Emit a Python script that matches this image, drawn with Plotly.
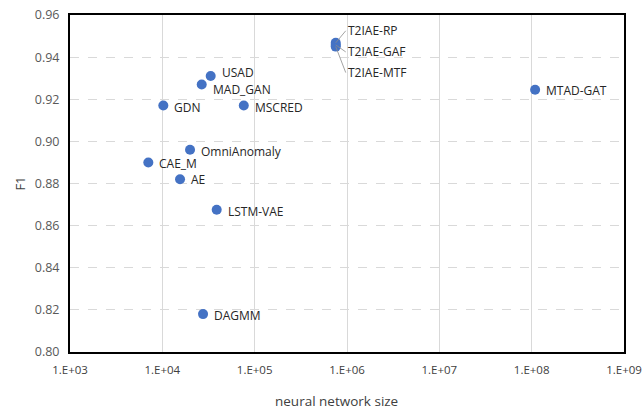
import math
import plotly.graph_objects as go

models = ["USAD", "MAD_GAN", "GDN", "MSCRED", "OmniAnomaly", "CAE_M", "AE",
          "LSTM-VAE", "DAGMM", "MTAD-GAT"]
sizes = [33400, 26700, 10250, 76200, 19950, 7050, 15550, 38800, 27600, 1.09e8]
f1 = [0.931, 0.927, 0.917, 0.917, 0.896, 0.890, 0.882, 0.8675, 0.818, 0.9245]
label_yshift = [4, -5, -2, -2, -2, -1, 0, -2, -1, -1]

t2_models = ["T2IAE-RP", "T2IAE-GAF", "T2IAE-MTF"]
t2_sizes = [755000, 755000, 755000]
t2_f1 = [0.9468, 0.9458, 0.9450]
t2_label_offsets = [(10, -12), (10, 7), (10, 26)]

tick_vals = [1e3, 1e4, 1e5, 1e6, 1e7, 1e8, 1e9]
tick_text = ["1.E+03", "1.E+04", "1.E+05", "1.E+06", "1.E+07", "1.E+08", "1.E+09"]
y_ticks = [0.80, 0.82, 0.84, 0.86, 0.88, 0.90, 0.92, 0.94, 0.96]

blue = "#4472C4"
font = "Open Sans"
lab_font = dict(family=font, size=12, color="#262626")

fig = go.Figure()
fig.add_trace(go.Scatter(
    x=sizes, y=f1, mode="markers",
    marker=dict(color=blue, size=10),
    showlegend=False, cliponaxis=False,
))
fig.add_trace(go.Scatter(
    x=t2_sizes, y=t2_f1, mode="markers",
    marker=dict(color=blue, size=10),
    showlegend=False,
))
for name, s, v, dy in zip(models, sizes, f1, label_yshift):
    fig.add_annotation(
        x=math.log10(s), y=v, text=name, showarrow=False,
        xanchor="left", yanchor="middle", xshift=9, yshift=dy,
        font=lab_font,
    )
for name, s, v, (ax, ay) in zip(t2_models, t2_sizes, t2_f1, t2_label_offsets):
    fig.add_annotation(
        x=math.log10(s), y=v, text=name, showarrow=True, arrowhead=0,
        arrowwidth=0.8, arrowcolor="#8c8c8c", ax=ax, ay=ay,
        xanchor="left", yanchor="middle",
        font=lab_font,
    )
fig.add_annotation(
    xref="paper", yref="paper", x=0.481, y=0, yshift=-49,
    xanchor="center", yanchor="middle", showarrow=False,
    text="neural network size",
    font=dict(family=font, size=13.5, color="#404040"),
)

fig.update_layout(
    width=644, height=411,
    margin=dict(l=70, r=20, t=15, b=59, autoexpand=False),
    paper_bgcolor="white", plot_bgcolor="white",
    font=dict(family=font, color="#595959"),
    xaxis=dict(
        type="log", range=[3, 9], tickvals=tick_vals, ticktext=tick_text,
        showgrid=True, gridcolor="#d9d9d9", gridwidth=1,
        showline=True, linecolor="#000000", linewidth=2, mirror=True,
        ticks="outside", ticklen=6, tickcolor="rgba(0,0,0,0)",
        tickfont=dict(family=font, size=11.5, color="#404040"),
        zeroline=False, automargin=False,
    ),
    yaxis=dict(
        range=[0.80, 0.96], tickvals=y_ticks, tickformat=".2f",
        showgrid=True, gridcolor="#d9d9d9", gridwidth=1, griddash="dash",
        showline=True, linecolor="#000000", linewidth=2, mirror=True,
        ticks="outside", ticklen=6, tickcolor="rgba(0,0,0,0)",
        tickfont=dict(family=font, size=12.5, color="#595959"),
        title=dict(text="F1", standoff=6,
                   font=dict(family=font, size=13, color="#404040")),
        zeroline=False, automargin=False,
    ),
)

fig.write_html(
    "out.html",
    config={"displayModeBar": False},
    post_script="document.body.style.margin='0';document.body.style.overflow='hidden';",
)
